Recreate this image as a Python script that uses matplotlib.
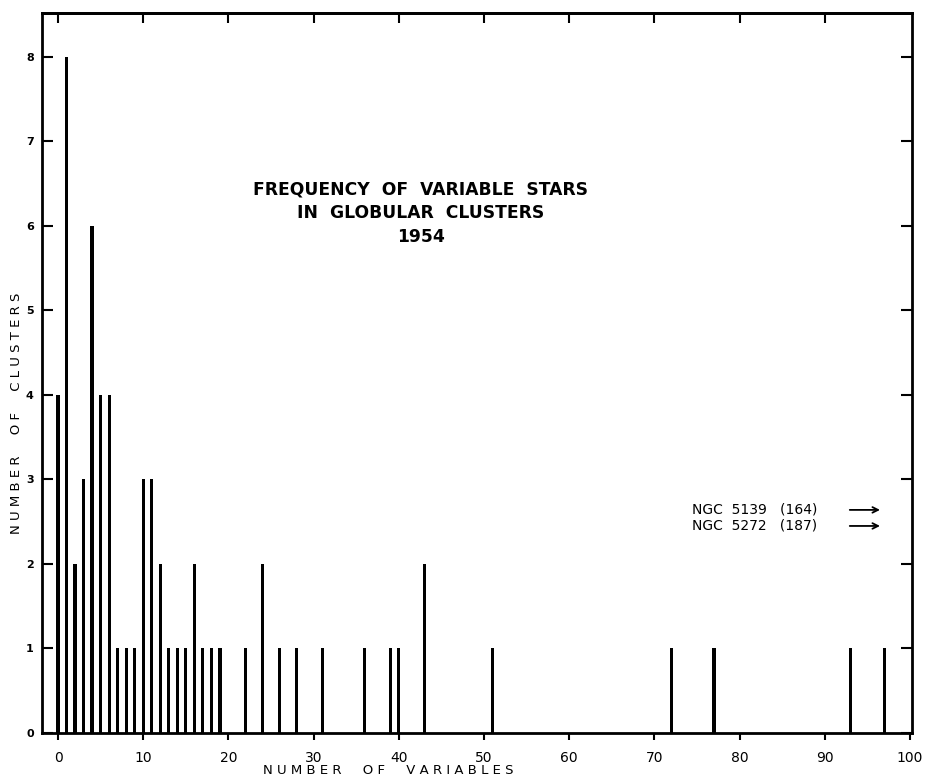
import matplotlib
matplotlib.use("Agg")
import matplotlib.pyplot as plt

# Data: number of variables per cluster -> number of clusters
num_variables = [0, 1, 2, 3, 4, 5, 6, 7, 8, 9, 10, 11, 12, 13, 14, 15, 16, 17, 18, 19,
                 22, 24, 26, 28, 31, 36, 39, 40, 43, 51, 72, 77, 93, 97]
num_clusters = [4, 8, 2, 3, 6, 4, 4, 1, 1, 1, 3, 3, 2, 1, 1, 1, 2, 1, 1, 1,
                1, 2, 1, 1, 1, 1, 1, 1, 2, 1, 1, 1, 1, 1]
off_scale_names = ["NGC 5139", "NGC 5272"]
off_scale_counts = [164, 187]
x_ticks = [0, 10, 20, 30, 40, 50, 60, 70, 80, 90, 100]
y_ticks = [0, 1, 2, 3, 4, 5, 6, 7, 8]

plt.rcParams['font.family'] = ['DejaVu Sans']

fig = plt.figure(figsize=(9.27, 7.81), dpi=100)
ax = fig.add_axes([42/927, 1-733/781, (912-42)/927, (733-13)/781])

ax.bar(num_variables, num_clusters, width=0.38, color='black', align='center')

ax.set_xlim(-1.88, 100.23)
ax.set_ylim(0, 8.52)

for s in ax.spines.values():
    s.set_linewidth(2.0)
    s.set_color('black')

ax.set_xticks(x_ticks)
ax.set_xticklabels([str(t) for t in x_ticks], fontsize=10)
ax.tick_params(axis='x', direction='out', length=5, width=1.5, pad=8, bottom=True, top=False)
ax.set_yticks(y_ticks)
ax.set_yticklabels([str(t) for t in y_ticks], fontsize=8, fontweight='bold')
ax.tick_params(axis='y', direction='in', length=8, width=1.5, pad=6, left=True, right=True)

top = ax.secondary_xaxis('top')
top.set_xticks(x_ticks[:-1])
top.set_xticklabels([])
top.tick_params(direction='in', length=7, width=1.5)
top.spines['top'].set_linewidth(2.0)

fig.text(388/927, 1-771/781, "N U M B E R     O F     V A R I A B L E S",
         ha='center', va='center', fontsize=9.5)
fig.text(17/927, 1-413/781, "N U M B E R     O F     C L U S T E R S",
         ha='center', va='center', rotation=90, fontsize=9.5)

ax.text(42.6, 6.15, "FREQUENCY  OF  VARIABLE  STARS\nIN  GLOBULAR  CLUSTERS\n1954",
        ha='center', va='center', fontsize=12.3, fontweight='bold', linespacing=1.4)

label_y = [2.64, 2.45]
for name, cnt, yy in zip(off_scale_names, off_scale_counts, label_y):
    ax.text(74.4, yy, f"{name.replace(' ', '  ')}   ({cnt})", ha='left', va='center', fontsize=10)
    ax.annotate("", xy=(96.8, yy), xytext=(92.6, yy),
                arrowprops=dict(arrowstyle='->', lw=1.3, color='black'))

fig.savefig("out.png", dpi=100)
